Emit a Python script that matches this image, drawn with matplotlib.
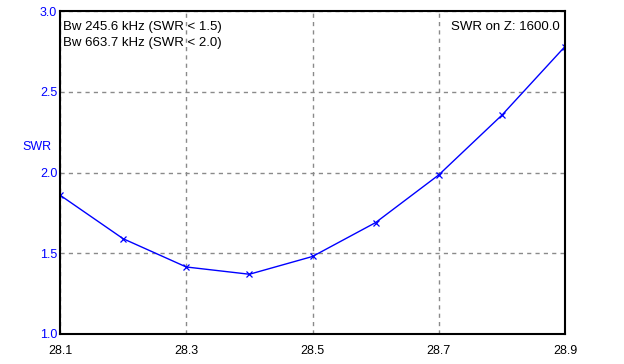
import numpy as np
import matplotlib
matplotlib.use('Agg')
import matplotlib.pyplot as plt

plt.rcParams['font.family'] = ['Liberation Sans', 'DejaVu Sans']

freq = [28.1, 28.2, 28.3, 28.4, 28.5, 28.6, 28.7, 28.8, 28.9]
swr = [1.86, 1.59, 1.415, 1.37, 1.48, 1.69, 1.985, 2.355, 2.78]
xticks = [28.1, 28.3, 28.5, 28.7, 28.9]
yticks = [1.0, 1.5, 2.0, 2.5, 3.0]

fig = plt.figure(figsize=(6.24, 3.64), dpi=100)
ax = fig.add_axes([60/624, 1-334/364, 505/624, 323/364])

ax.plot(freq, swr, color='#0000ff', lw=1, marker='x', ms=4.5, mew=0.9)

ax.set_xlim(28.1, 28.9)
ax.set_ylim(1.0, 3.0)
ax.set_xticks(xticks)
ax.set_xticklabels(['%.1f' % v for v in xticks])
ax.set_yticks(yticks)
ax.set_yticklabels(['%.1f' % v for v in yticks], color='#0000ff')
ax.tick_params(length=0, labelsize=9, pad=8)
ax.tick_params(axis='y', pad=2)
ax.grid(True, color='#8a8a8a', ls=(0, (3, 3)), lw=1)
for s in ax.spines.values():
    s.set_linewidth(1.5)
    s.set_color('black')

fig.text(63/624, 1-27/364, 'Bw 245.6 kHz (SWR < 1.5)', va='center', ha='left', fontsize=9.5)
fig.text(63/624, 1-43/364, 'Bw 663.7 kHz (SWR < 2.0)', va='center', ha='left', fontsize=9.5)
fig.text(560/624, 1-27/364, 'SWR on Z: 1600.0', va='center', ha='right', fontsize=9.5)
fig.text(22/624, 1-147/364, 'SWR', color='#0000ff', fontsize=9, va='center', ha='left')

fig.savefig('out.png', dpi=100)
